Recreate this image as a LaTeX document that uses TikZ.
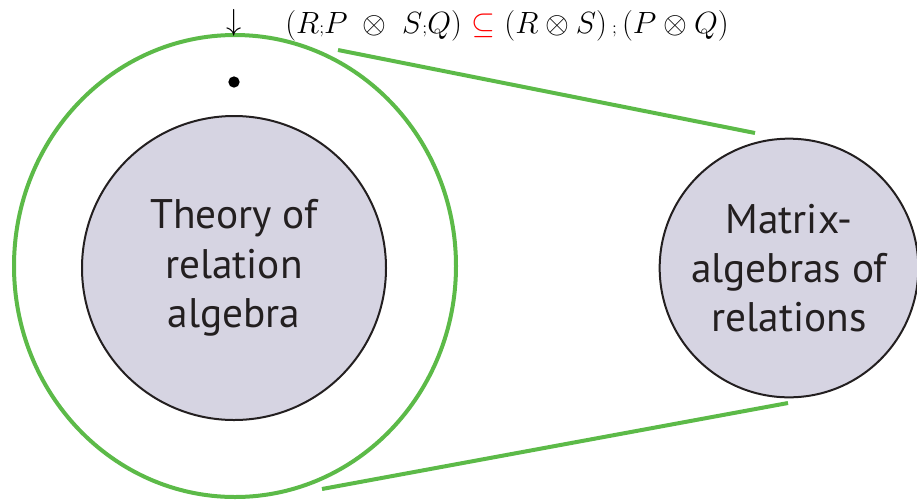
\documentclass[tikz,border=0pt]{standalone}
\usepackage{fontspec}
\newfontfamily\labelfont{PT Sans}
\usepackage{xcolor}
\usetikzlibrary{shapes.geometric}
\definecolor{ringgreen}{RGB}{92,186,72}
\definecolor{discgray}{RGB}{214,212,226}
\definecolor{inkgray}{RGB}{35,31,32}
\newcommand*{\sq}{{\scriptscriptstyle ;}}
\tikzset{
    disc/.style={circle, draw=inkgray, line width=1.5pt, fill=discgray, inner sep=0pt,
        align=center, text=inkgray, font=\labelfont\fontsize{31}{37}\selectfont},
    ring/.style={draw=ringgreen, line width=3pt},
}

\begin{document}
\begin{tikzpicture}[x=0.75pt, y=-0.75pt]
    \useasboundingbox (0,0) rectangle (917,501);
    \node[ellipse, ring, minimum width=331.5pt, minimum height=346.5pt, inner sep=0pt](world)at(235, 266){};
    \node[disc, minimum size=228pt](theory)at(234, 268){Theory of\\relation\\algebra};
    \node[disc, minimum size=194pt](matrix)at(789, 268){Matrix-\\algebras of\\relations};
    \coordinate(zoomtop)at(338, 50);
    \coordinate(zoomtopend)at(755, 133);
    \coordinate(zoombot)at(322, 489);
    \coordinate(zoombotend)at(788, 403);
    \draw[ringgreen, line width=3pt](zoomtop)--(zoomtopend);
    \draw[ringgreen, line width=3pt](zoombot)--(zoombotend);
    \node[circle, fill=black, inner sep=0pt, minimum size=8.5pt](point)at(234, 82){};
    \node[inner sep=0pt, font=\fontsize{20.74}{25}\selectfont](down)at(234, 23){\scalebox{1.1}{$\downarrow$}};
    \node[anchor=base west, inner sep=0pt, font=\fontsize{20.74}{25}\selectfont](law)at(285, 33)
        {\scalebox{1.11}{$(R\sq P \;\otimes\; S\sq Q)$ \textcolor{red}{$\subseteq$} $(R\otimes S)\,\sq\,(P\otimes Q)$}};
\end{tikzpicture}
\end{document}
